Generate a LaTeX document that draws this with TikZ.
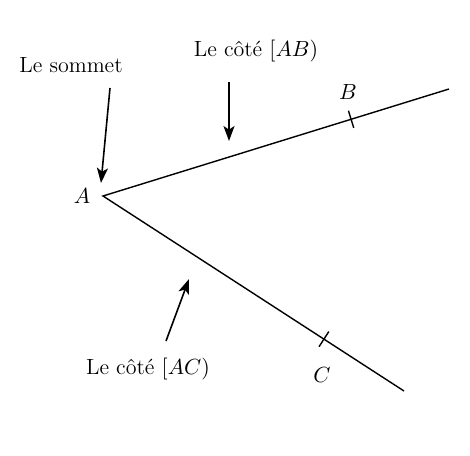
\documentclass[tikz,border=0pt]{standalone}
\usetikzlibrary{arrows.meta,calc}
\begin{document}
\begin{tikzpicture}[x=0.5pt,y=-0.5pt,
  ray/.style={line width=0.7pt},
  pointer/.style={line width=0.8pt,-{Stealth[length=7.5pt,width=5.5pt,inset=1.8pt]}},
  lbl/.style={inner sep=0pt,font=\fontsize{11}{13}\selectfont}]
\useasboundingbox (0,0) rectangle (470,455);
\coordinate (A) at (103,196);
\coordinate (Bend) at (449,89);
\coordinate (Cend) at (404,391);
\coordinate (tB) at ($(A)!0.717!(Bend)$);
\coordinate (tC) at ($(A)!0.734!(Cend)$);
\draw[ray] (Bend) -- (A) -- (Cend);
\draw[ray] ($(tB)!4.5pt!90:(Bend)$) -- ($(tB)!4.5pt!-90:(Bend)$);
\draw[ray] ($(tC)!4.5pt!90:(Cend)$) -- ($(tC)!4.5pt!-90:(Cend)$);
\node[lbl] (la) at (82,196) {$A$};
\node[lbl] (lb) at (348,92) {$B$};
\node[lbl] (lc) at (322,375) {$C$};
\node[lbl] (t1) at (71,65) {Le sommet};
\node[lbl] (t2) at (256,51) {Le côté $[AB)$};
\node[lbl] (t3) at (148,369) {Le côté $[AC)$};
\coordinate (s1) at (110,88);
\coordinate (e1) at (101,183);
\coordinate (s2) at (229,82);
\coordinate (e2) at (229,141);
\coordinate (s3) at (166,341);
\coordinate (e3) at (189,279);
\draw[pointer] (s1) -- (e1);
\draw[pointer] (s2) -- (e2);
\draw[pointer] (s3) -- (e3);
\end{tikzpicture}
\end{document}
